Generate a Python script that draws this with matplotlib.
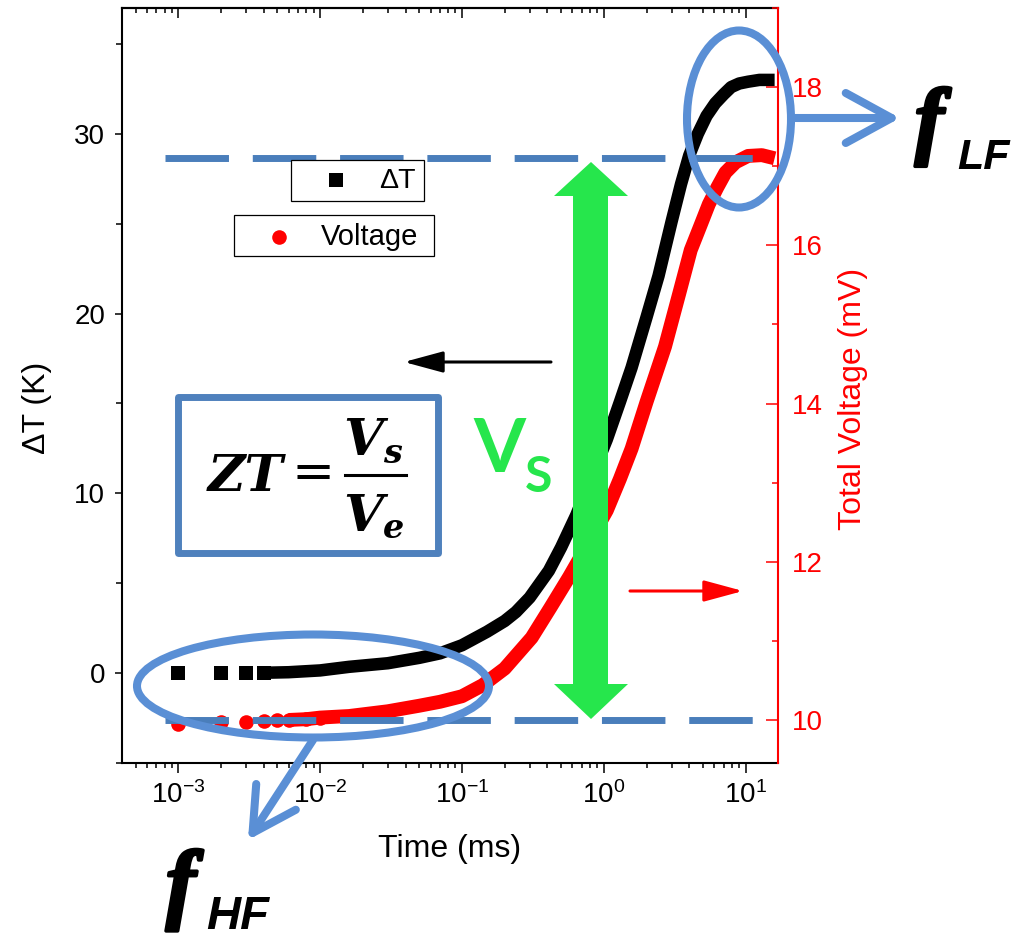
import numpy as np
import matplotlib
matplotlib.use('Agg')
import matplotlib.pyplot as plt
import matplotlib.patheffects as pe
from matplotlib.patches import Ellipse, Rectangle, Polygon, FancyArrowPatch, ArrowStyle
from matplotlib.lines import Line2D
from matplotlib.ticker import MultipleLocator, LogLocator, NullFormatter

plt.rcParams['font.family'] = ['Liberation Sans', 'DejaVu Sans']
plt.rcParams['mathtext.default'] = 'regular'
plt.rcParams['axes.unicode_minus'] = False

# data
t_dT = [0.001, 0.002, 0.003, 0.004, 0.006, 0.01, 0.016, 0.03, 0.05, 0.07, 0.1, 0.15,
        0.2, 0.24, 0.3, 0.41, 0.5, 0.64, 0.8, 1.05, 1.3, 1.57, 2.0, 2.43, 3.0, 3.5,
        4.0, 4.6, 5.3, 6.1, 7.0, 7.9, 9.0, 10.4, 12.5, 16.0]
dT = [0.0, 0.0, 0.0, 0.02, 0.05, 0.15, 0.35, 0.55, 0.85, 1.1, 1.55, 2.3,
      2.9, 3.4, 4.2, 5.7, 7.0, 8.8, 10.7, 13.0, 15.1, 17.0, 19.8, 22.1, 25.1, 27.2,
      28.8, 30.0, 31.0, 31.7, 32.2, 32.6, 32.8, 32.9, 33.0, 33.0]

t_v = [0.001, 0.002, 0.003, 0.004, 0.005, 0.006, 0.008, 0.01, 0.016, 0.03, 0.05, 0.07,
       0.1, 0.14, 0.2, 0.31, 0.42, 0.57, 0.8, 1.05, 1.3, 1.57, 2.0, 2.7, 3.4, 4.1,
       4.8, 5.5, 6.3, 7.2, 8.5, 10.4, 13.0, 16.0]
volt = [9.95, 9.97, 9.98, 9.99, 10.0, 10.0, 10.01, 10.03, 10.05, 10.11, 10.18, 10.23,
        10.3, 10.44, 10.65, 11.04, 11.42, 11.81, 12.27, 12.65, 13.05, 13.43, 14.02, 14.72, 15.39, 15.94,
        16.25, 16.52, 16.73, 16.92, 17.05, 17.13, 17.14, 17.1]

v_levels = [17.11, 10.0]   # dashed guide lines (voltage axis)

W, H = 1019, 938
def fx(x): return x / W
def fy(y): return 1 - y / H

blue_line = '#4A7EBB'
blue_mark = '#5A8FD5'
green = '#26E64C'

fig = plt.figure(figsize=(W / 100, H / 100), dpi=100)
ax = fig.add_axes([fx(122), fy(763), fx(778) - fx(122), fy(8) - fy(763)])
ax2 = ax.twinx()

# curves: sparse early points as markers, dense part as a thick band
ax.plot(t_dT[3:], dT[3:], '-', color='black', lw=9, solid_capstyle='butt',
        solid_joinstyle='round', zorder=3)
ax.plot(t_dT[:4], dT[:4], 's', color='black', ms=9.4, mew=0, zorder=3)
ax2.plot(t_v[5:], volt[5:], '-', color='red', lw=10, solid_capstyle='butt',
         solid_joinstyle='round', zorder=3)
ax2.plot(t_v[:8], volt[:8], 'o', color='red', ms=10.5, mew=0, zorder=3)

for v in v_levels:
    ax2.plot([8.1e-4, 11.7], [v, v], color=blue_line, lw=5, dashes=(9.14, 3.43),
             dash_capstyle='butt', zorder=5)

ax.set_xscale('log')
ax.set_xlim(4.01e-4, 16.9)
ax.set_ylim(-5, 37)
ax2.set_ylim(9.456, 19.0)

ax.xaxis.set_major_locator(LogLocator(base=10))
ax.xaxis.set_minor_locator(LogLocator(base=10, subs=np.arange(2, 10)))
ax.xaxis.set_minor_formatter(NullFormatter())
ax.yaxis.set_major_locator(MultipleLocator(10))
ax.yaxis.set_minor_locator(MultipleLocator(5))
ax2.yaxis.set_major_locator(MultipleLocator(2))
ax2.yaxis.set_minor_locator(MultipleLocator(1))

for s in ['left', 'bottom', 'top']:
    ax.spines[s].set_linewidth(1.5)
    ax2.spines[s].set_visible(False)
ax.spines['right'].set_visible(False)
ax2.spines['right'].set_color('red')
ax2.spines['right'].set_linewidth(1.5)

ax.tick_params(axis='y', which='major', direction='out', length=5, width=1.1, labelsize=20, pad=7)
ax.tick_params(axis='y', which='minor', direction='out', length=4, width=1.1)
ax.tick_params(axis='x', which='major', direction='out', length=7, width=1.1, labelsize=20, pad=6)
ax.tick_params(axis='x', which='minor', direction='out', length=3.6, width=1.1)
ax2.tick_params(axis='y', which='major', direction='in', length=8.5, width=1.1, colors='red',
                labelsize=20, pad=10)
ax2.tick_params(axis='y', which='minor', direction='in', length=4.5, width=1.1, colors='red')

sec = ax.secondary_xaxis('top')
sec.xaxis.set_major_locator(LogLocator(base=10))
sec.xaxis.set_minor_locator(LogLocator(base=10, subs=np.arange(2, 10)))
sec.tick_params(axis='x', which='major', direction='in', length=7, width=1.1, labeltop=False)
sec.tick_params(axis='x', which='minor', direction='in', length=3.6, width=1.1, labeltop=False)
sec.xaxis.set_minor_formatter(NullFormatter())
sec.spines['top'].set_linewidth(1.5)

ax.set_xlabel('Time (ms)', fontsize=23)
ax.xaxis.set_label_coords((450 - 122) / 656, (763 - 834) / 755)
ax.set_ylabel('ΔT (K)', fontsize=23)
ax.yaxis.set_label_coords((52 - 122) / 656, (763 - 408) / 755)
ax2.set_ylabel('Total Voltage (mV)', fontsize=23, color='red')
ax2.yaxis.set_label_coords((838 - 122) / 656, (763 - 399) / 755)

# legend boxes
fig.add_artist(Rectangle((fx(291), fy(201)), fx(424) - fx(291), fy(160) - fy(201),
                         transform=fig.transFigure, fc='white', ec='black', lw=0.9, zorder=1))
fig.add_artist(Rectangle((fx(234), fy(256)), fx(434) - fx(234), fy(215) - fy(256),
                         transform=fig.transFigure, fc='white', ec='black', lw=0.9, zorder=1))
fig.add_artist(Line2D([fx(336)], [fy(180)], marker='s', color='black', ms=9.4, mew=0,
                      transform=fig.transFigure, zorder=2))
fig.add_artist(Line2D([fx(279)], [fy(237)], marker='o', color='red', ms=10.5, mew=0,
                      transform=fig.transFigure, zorder=2))
fig.text(fx(379), fy(181), 'ΔT', fontsize=20.5, ha='left', va='center')
fig.text(fx(321), fy(237), 'Voltage', fontsize=21, ha='left', va='center')

# green double arrow
pts = [(591, 162), (628, 196), (608, 196), (608, 684), (628, 684), (591, 719),
       (554, 684), (573, 684), (573, 196), (554, 196)]
fig.add_artist(Polygon([(fx(x), fy(y)) for x, y in pts], closed=True,
                       transform=fig.transFigure, fc=green, ec='none', zorder=2))
fig.text(fx(473), fy(472), 'V', fontsize=54, color=green, family=['Lato', 'DejaVu Sans'],
         weight='bold', ha='left', va='baseline')
fig.text(fx(525), fy(492), 'S', fontsize=36, color=green, family=['Lato', 'DejaVu Sans'],
         weight='bold', ha='left', va='baseline')

# small black and red arrows
fig.add_artist(FancyArrowPatch((fx(551), fy(362)), (fx(404), fy(362)), transform=fig.transFigure,
                               arrowstyle=ArrowStyle('-|>', head_length=24, head_width=6.5),
                               color='black', lw=2.2, shrinkA=0, shrinkB=0, zorder=2))
fig.add_artist(FancyArrowPatch((fx(630), fy(591)), (fx(743), fy(591)), transform=fig.transFigure,
                               arrowstyle=ArrowStyle('-|>', head_length=24, head_width=6.5),
                               color='red', lw=2.2, shrinkA=0, shrinkB=0, zorder=2))

# ZT box
fig.add_artist(Rectangle((fx(178), fy(553)), fx(438) - fx(178), fy(397) - fy(553),
                         transform=fig.transFigure, fc='white', ec='#4F81BD', lw=5,
                         joinstyle='round', zorder=1))
serif = ['DejaVu Serif']
fig.text(fx(208), fy(491), 'ZT', fontsize=37, family=serif, weight='bold', style='italic',
         ha='left', va='baseline')
fig.text(fx(313), fy(488), '=', fontsize=37, family=serif, ha='center', va='baseline')
fig.text(fx(343), fy(455), 'V', fontsize=37, family=serif, weight='bold', style='italic',
         ha='left', va='baseline')
fig.text(fx(383), fy(463), 's', fontsize=24, family=serif, weight='bold', style='italic',
         ha='left', va='baseline')
fig.add_artist(Line2D([fx(345), fx(406)], [fy(475), fy(475)], color='black', lw=2.2,
                      transform=fig.transFigure, zorder=2))
fig.text(fx(343), fy(531), 'V', fontsize=37, family=serif, weight='bold', style='italic',
         ha='left', va='baseline')
fig.text(fx(383), fy(538), 'e', fontsize=24, family=serif, weight='bold', style='italic',
         ha='left', va='baseline')

# ellipses and big arrows
fig.add_artist(Ellipse((fx(313), fy(686)), 352 / W, 103 / H, transform=fig.transFigure,
                       fc='none', ec=blue_mark, lw=5.8, zorder=2))
fig.add_artist(Ellipse((fx(739), fy(119)), 104 / W, 177 / H, transform=fig.transFigure,
                       fc='none', ec=blue_mark, lw=5.8, zorder=2))
a1 = FancyArrowPatch((fx(313), fy(740)), (fx(248), fy(840)), transform=fig.transFigure,
                     arrowstyle=ArrowStyle('->', head_length=31, head_width=17),
                     color=blue_mark, lw=5.8, shrinkA=0, shrinkB=0, zorder=2)
a1.set_capstyle('round')
a1.set_joinstyle('round')
fig.add_artist(a1)
a2 = FancyArrowPatch((fx(791), fy(118)), (fx(900), fy(118)), transform=fig.transFigure,
                     arrowstyle=ArrowStyle('->', head_length=33, head_width=18),
                     color=blue_mark, lw=5.8, shrinkA=0, shrinkB=0, zorder=2)
a2.set_capstyle('round')
a2.set_joinstyle('round')
fig.add_artist(a2)

heavy = [pe.withStroke(linewidth=2.5, foreground='black')]
fig.text(fx(166), fy(912), 'f', fontsize=64, family=['Liberation Serif', 'DejaVu Serif'],
         weight='bold', style='italic', ha='left', va='baseline', path_effects=heavy)
fig.text(fx(206), fy(929), 'HF', fontsize=34, weight='bold', style='italic',
         ha='left', va='baseline')
fig.text(fx(915), fy(148), 'f', fontsize=62, family=['Liberation Serif', 'DejaVu Serif'],
         weight='bold', style='italic', ha='left', va='baseline', path_effects=heavy)
fig.text(fx(957), fy(169), 'LF', fontsize=31, weight='bold', style='italic',
         ha='left', va='baseline')

fig.savefig('out.png', dpi=100)
